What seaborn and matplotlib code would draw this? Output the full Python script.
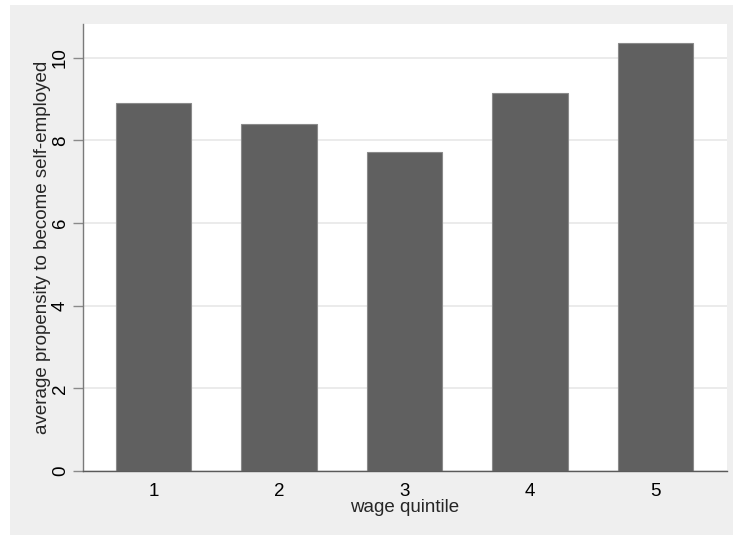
import matplotlib.pyplot as plt
import matplotlib.patches as mpatches
import seaborn as sns
import pandas as pd

# data
quintiles = ["1", "2", "3", "4", "5"]
propensity = [8.90, 8.40, 7.72, 9.14, 10.36]
y_ticks = [0, 2, 4, 6, 8, 10]

sns.set_theme(style="white")
plt.rcParams['font.family'] = ['Liberation Sans', 'DejaVu Sans']

df = pd.DataFrame({"quintile": quintiles, "propensity": propensity})

fig = plt.figure(figsize=(7.34, 5.35), dpi=100)
fig.patch.set_facecolor("white")
W, H = 734, 535

# stata-like outer gray panel, drawn on a background axes
bg = fig.add_axes([0, 0, 1, 1], zorder=-1)
bg.add_patch(mpatches.Rectangle((10 / W, 0), 723 / W, 530 / H,
                                facecolor="#efefef", edgecolor="none"))
bg.set_xlim(0, 1)
bg.set_ylim(0, 1)
bg.axis("off")

ax = fig.add_axes([83 / W, (H - 471) / H, 644 / W, 447 / H], zorder=1)
ax.set_facecolor("white")

sns.barplot(data=df, x="quintile", y="propensity", color="#606060",
            saturation=1, width=0.6, edgecolor="#8a8a8a", linewidth=0.8, ax=ax)

ax.set_xlim(-0.562, 4.57)
ax.set_ylim(0, 10.815)
ax.set_yticks(y_ticks)
ax.set_yticklabels([str(t) for t in y_ticks], rotation=90, va="center")
ax.yaxis.grid(True, color="#e8e8e8", linewidth=1.2)
ax.set_axisbelow(True)

for s in ["top", "right"]:
    ax.spines[s].set_visible(False)
ax.spines["left"].set_color("#7a7a7a")
ax.spines["bottom"].set_color("#5a5a5a")
ax.spines["left"].set_linewidth(1.0)
ax.spines["bottom"].set_linewidth(1.0)

ax.tick_params(axis="y", left=True, length=7, width=1, color="#8a8a8a",
               labelsize=13.5, pad=3, labelcolor="black")
ax.tick_params(axis="x", bottom=False, labelsize=13.5, pad=3, labelcolor="black")

ax.set_xlabel("wage quintile", fontsize=13.5, labelpad=-1)
ax.set_ylabel("average propensity to become self-employed", fontsize=13.5, labelpad=1)

fig.savefig("out.png", dpi=100)
